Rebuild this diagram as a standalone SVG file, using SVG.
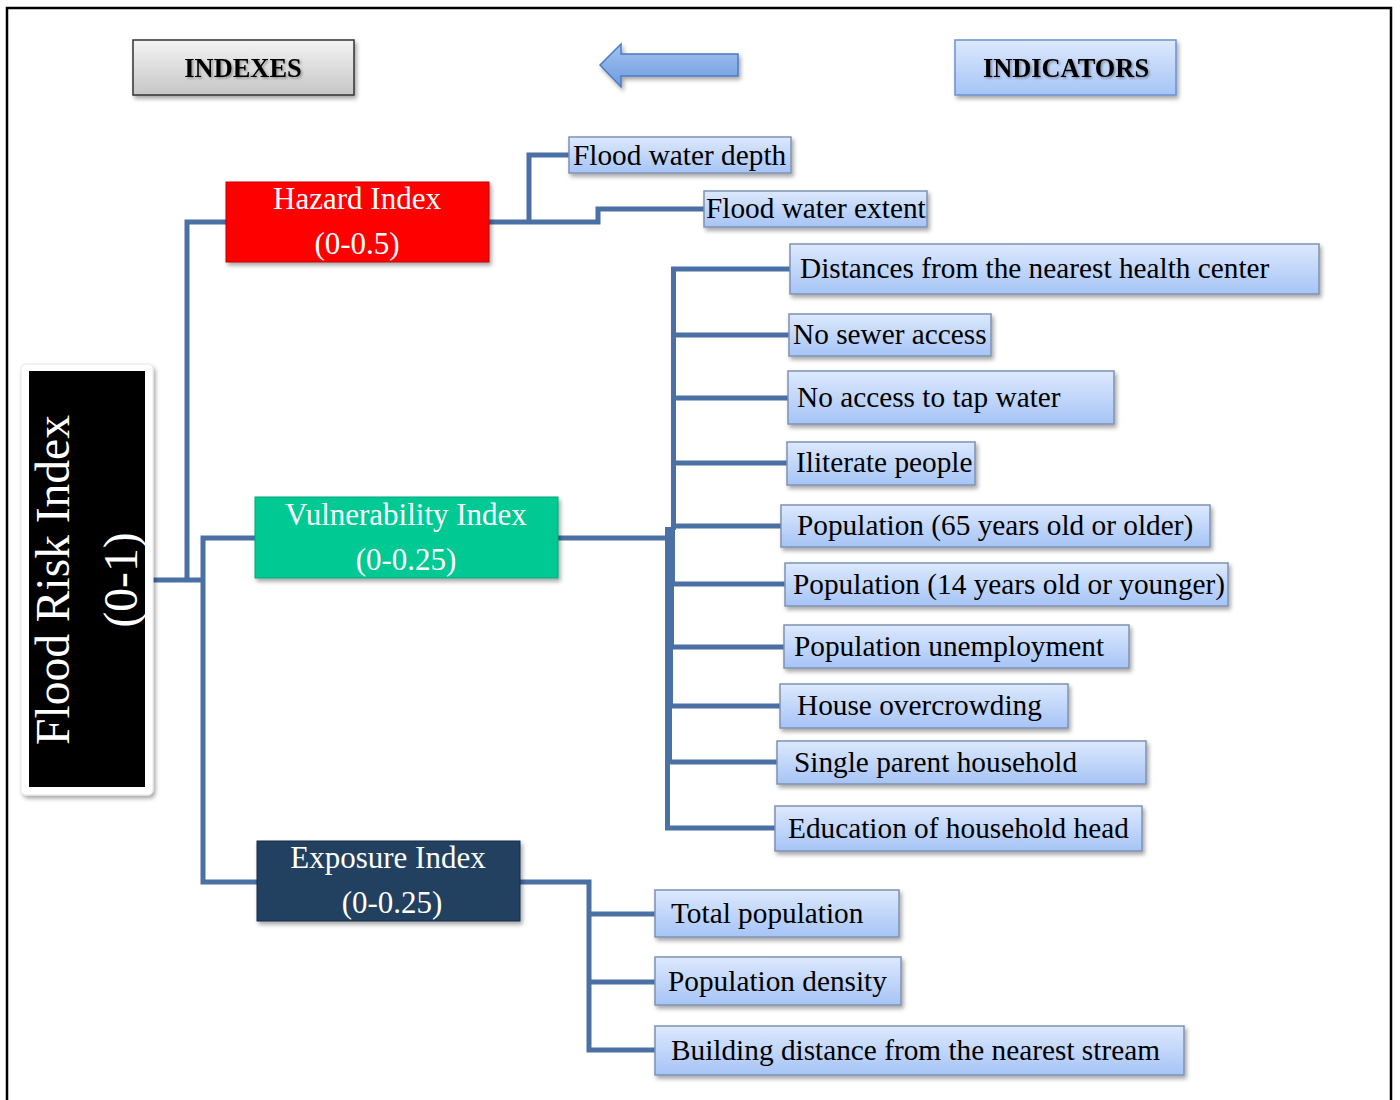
<svg xmlns="http://www.w3.org/2000/svg" width="1400" height="1100" viewBox="0 0 1400 1100">
<defs>
<linearGradient id="gBlue" x1="0" y1="0" x2="0" y2="1">
<stop offset="0" stop-color="#dde9fd"/>
<stop offset="1" stop-color="#a6c4f6"/>
</linearGradient>
<linearGradient id="gGray" x1="0" y1="0" x2="0" y2="1">
<stop offset="0" stop-color="#f4f4f4"/>
<stop offset="1" stop-color="#c6c6c6"/>
</linearGradient>
<linearGradient id="gArrow" x1="0" y1="0" x2="0" y2="1">
<stop offset="0" stop-color="#a3c2ef"/>
<stop offset="1" stop-color="#6f9be0"/>
</linearGradient>
<filter id="sh" x="-10%" y="-20%" width="130%" height="150%">
<feDropShadow dx="2" dy="3" stdDeviation="2" flood-color="#000" flood-opacity="0.35"/>
</filter>
<filter id="tsh" x="-5%" y="-20%" width="115%" height="150%">
<feDropShadow dx="1.5" dy="1.5" stdDeviation="0.8" flood-color="#000" flood-opacity="0.35"/>
</filter>
</defs>
<style>
.ind{fill:url(#gBlue);stroke:#7f92b3;stroke-width:1.5;filter:url(#sh)}
.it{font-family:"Liberation Serif","Times New Roman",serif;font-size:29.3px;fill:#000}
.xt{font-family:"Liberation Serif","Times New Roman",serif;font-size:31px;fill:#fff;text-anchor:middle}
.ht{font-family:"Liberation Serif","Times New Roman",serif;font-size:26.4px;font-weight:bold;fill:#000;text-anchor:middle;filter:url(#tsh)}
.c{fill:none;stroke:#4a70a6;stroke-width:5;stroke-linejoin:miter}
</style>
<rect width="1400" height="1100" fill="#fff"/>
<path d="M7 1102 V8 H1391 V1102" fill="none" stroke="#000" stroke-width="2.5"/>

<g id="header-indexes">
<rect x="133" y="40" width="221" height="55" fill="url(#gGray)" stroke="#333" stroke-width="1.5" filter="url(#sh)"/>
<text class="ht" x="243" y="77">INDEXES</text>
</g>
<g id="header-arrow">
<path d="M600 65 L621 44 L621 54 L738 54 L738 76 L621 76 L621 87 Z" fill="url(#gArrow)" stroke="#4a7cc0" stroke-width="1.5" filter="url(#sh)"/>
</g>
<g id="header-indicators">
<rect x="955" y="40" width="221" height="55" fill="url(#gBlue)" stroke="#6a92d0" stroke-width="1.5" filter="url(#sh)"/>
<text class="ht" x="1066" y="77">INDICATORS</text>
</g>

<g id="connectors">
<path class="c" d="M153 580 H205"/>
<path class="c" d="M187 580 V222 H226"/>
<path class="c" d="M203 580 V538 H255"/>
<path class="c" d="M203 580 V882 H257"/>
<path class="c" d="M489 222 H598 V209 H704"/>
<path class="c" d="M529 222 V155 H569"/>
<path class="c" d="M558 538 H670"/>
<path class="c" d="M673.5 530 V269 H790"/>
<path class="c" d="M673.5 335 H789"/>
<path class="c" d="M673.5 398 H788"/>
<path class="c" d="M673.5 463 H787"/>
<path class="c" d="M673.5 526 H781"/>
<path class="c" d="M672.5 527 V584 H785"/>
<path class="c" d="M671.5 538 V647 H784"/>
<path class="c" d="M670.5 538 V706 H780"/>
<path class="c" d="M669.5 538 V762 H777"/>
<path class="c" d="M667.5 527 V828 H775"/>
<path class="c" d="M520 882 H589 V1050 H655"/>
<path class="c" d="M589 914 H655"/>
<path class="c" d="M589 982 H655"/>
</g>

<g id="flood-risk-index">
<rect x="21" y="364" width="132" height="431" rx="5" fill="#fff" stroke="#e6e6e6" stroke-width="1" filter="url(#sh)"/>
<rect x="29" y="371" width="116" height="416" fill="#000"/>
<text transform="rotate(-90)" x="-580" y="69" font-family="Liberation Serif, Times New Roman, serif" font-size="47.5" fill="#fff" text-anchor="middle">Flood Risk Index</text>
<text transform="rotate(-90)" x="-580" y="137" font-family="Liberation Serif, Times New Roman, serif" font-size="47.5" fill="#fff" text-anchor="middle">(0-1)</text>
</g>

<g id="hazard-index">
<rect x="226" y="182" width="263" height="80" fill="#ff0000" stroke="#c00000" stroke-width="1" filter="url(#sh)"/>
<text class="xt" x="357" y="209">Hazard Index</text>
<text class="xt" x="357" y="254">(0-0.5)</text>
</g>
<g id="vulnerability-index">
<rect x="255" y="497" width="303" height="81" fill="#00c993" stroke="#00a77a" stroke-width="1" filter="url(#sh)"/>
<text class="xt" x="406" y="525">Vulnerability Index</text>
<text class="xt" x="406" y="570">(0-0.25)</text>
</g>
<g id="exposure-index">
<rect x="257" y="841" width="263" height="80" fill="#243f60" stroke="#1a2f48" stroke-width="1" filter="url(#sh)"/>
<text class="xt" x="388" y="868">Exposure Index</text>
<text class="xt" x="392" y="913">(0-0.25)</text>
</g>

<g id="ind-flood-water-depth"><rect class="ind" x="569" y="137" width="222" height="36"/><text class="it" x="573" y="165">Flood water depth</text></g>
<g id="ind-flood-water-extent"><rect class="ind" x="704" y="191" width="223" height="36"/><text class="it" x="706" y="218">Flood water extent</text></g>
<g id="ind-health-center"><rect class="ind" x="790" y="244" width="529" height="50"/><text class="it" x="800" y="278">Distances from the nearest health center</text></g>
<g id="ind-sewer"><rect class="ind" x="789" y="314" width="202" height="42"/><text class="it" x="793" y="344">No sewer access</text></g>
<g id="ind-tap-water"><rect class="ind" x="788" y="371" width="326" height="53"/><text class="it" x="797" y="407">No access to tap water</text></g>
<g id="ind-iliterate"><rect class="ind" x="787" y="442" width="188" height="43"/><text class="it" x="796" y="472">Iliterate people</text></g>
<g id="ind-pop-65"><rect class="ind" x="781" y="505" width="429" height="42"/><text class="it" x="797" y="535">Population (65 years old or older)</text></g>
<g id="ind-pop-14"><rect class="ind" x="785" y="563" width="443" height="43"/><text class="it" x="793" y="594">Population (14 years old or younger)</text></g>
<g id="ind-unemployment"><rect class="ind" x="784" y="625" width="345" height="43"/><text class="it" x="794" y="656">Population unemployment</text></g>
<g id="ind-overcrowding"><rect class="ind" x="780" y="684" width="288" height="44"/><text class="it" x="797" y="715">House overcrowding</text></g>
<g id="ind-single-parent"><rect class="ind" x="777" y="741" width="369" height="43"/><text class="it" x="794" y="772">Single parent household</text></g>
<g id="ind-education"><rect class="ind" x="775" y="806" width="367" height="45"/><text class="it" x="788" y="838">Education of household head</text></g>
<g id="ind-total-pop"><rect class="ind" x="655" y="890" width="244" height="47"/><text class="it" x="671" y="923">Total population</text></g>
<g id="ind-pop-density"><rect class="ind" x="655" y="957" width="246" height="48"/><text class="it" x="668" y="991">Population density</text></g>
<g id="ind-stream"><rect class="ind" x="655" y="1026" width="529" height="49"/><text class="it" x="671" y="1060">Building distance from the nearest stream</text></g>
</svg>
